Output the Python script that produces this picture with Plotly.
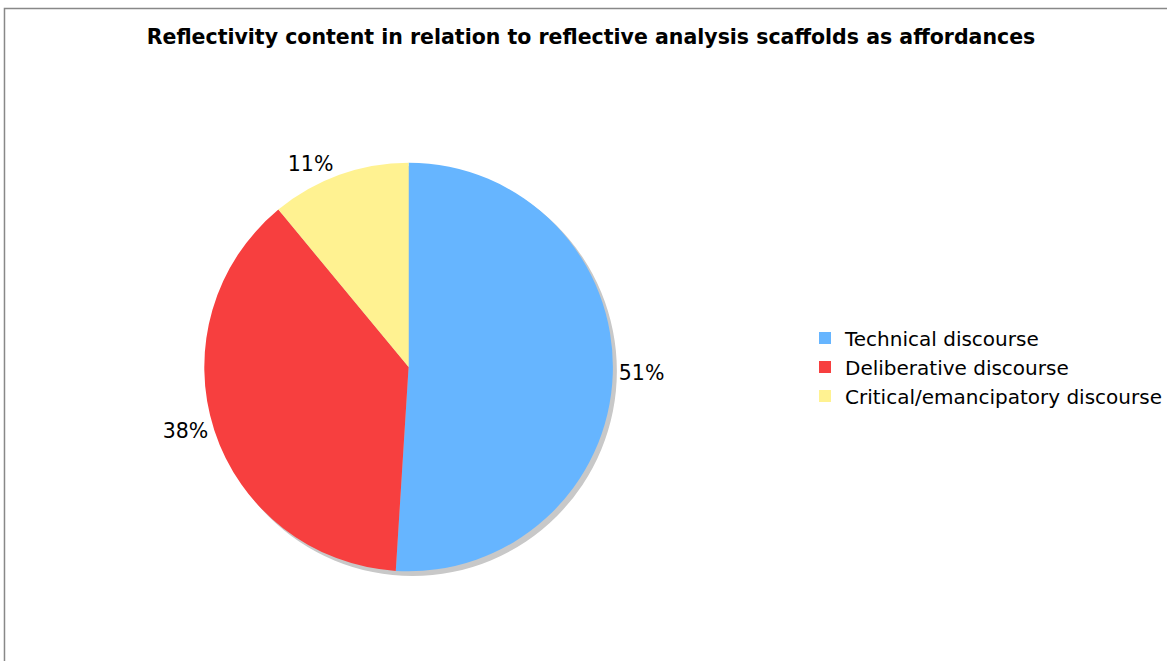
import plotly.graph_objects as go

categories = ["Technical discourse", "Deliberative discourse", "Critical/emancipatory discourse"]
values = [51, 38, 11]
colors = ["#66B5FF", "#F73F3F", "#FFF291"]

W, H = 1167, 661
cx, cy, r = 410, 367, 205

fig = go.Figure()
fig.add_trace(go.Pie(
    labels=categories,
    values=values,
    sort=False,
    direction="clockwise",
    rotation=0,
    marker=dict(colors=colors, line=dict(width=0)),
    textinfo="percent",
    texttemplate="%{percent:.0%}",
    textposition="outside",
    textfont=dict(family="DejaVu Sans", size=20.5, color="#000000"),
    domain=dict(x=[(cx - r) / W, (cx + r) / W], y=[(H - cy - r) / H, (H - cy + r) / H]),
    hoverinfo="label+percent",
))

fig.update_layout(
    width=W, height=H,
    margin=dict(l=0, r=0, t=0, b=0),
    paper_bgcolor="white",
    title=dict(
        text="<b>Reflectivity content in relation to reflective analysis scaffolds as affordances</b>",
        x=591 / W, xanchor="center", y=1 - 37 / H, yanchor="middle",
        font=dict(family="DejaVu Sans", size=20.5, color="#000000"),
    ),
    legend=dict(
        x=808 / W, xanchor="left", y=1 - 367 / H, yanchor="middle",
        font=dict(family="DejaVu Sans", size=20, color="#000000"),
        tracegroupgap=0, itemwidth=30,
    ),
    shapes=[
        dict(type="circle", xref="paper", yref="paper", layer="below",
             x0=(cx - r + 4) / W, x1=(cx + r + 4) / W,
             y0=(H - cy - r - 4) / H, y1=(H - cy + r - 4) / H,
             fillcolor="#C8C8C8", line=dict(width=0)),
        dict(type="rect", xref="paper", yref="paper", layer="above",
             x0=4.5 / W, x1=1.02, y0=-0.02, y1=1 - 8.5 / H,
             line=dict(color="#888888", width=1.5), fillcolor="rgba(0,0,0,0)"),
    ],
)

fig.write_html(
    "out.html",
    config={"displayModeBar": False},
    post_script="document.body.style.margin='0';document.body.style.overflow='hidden';",
)
